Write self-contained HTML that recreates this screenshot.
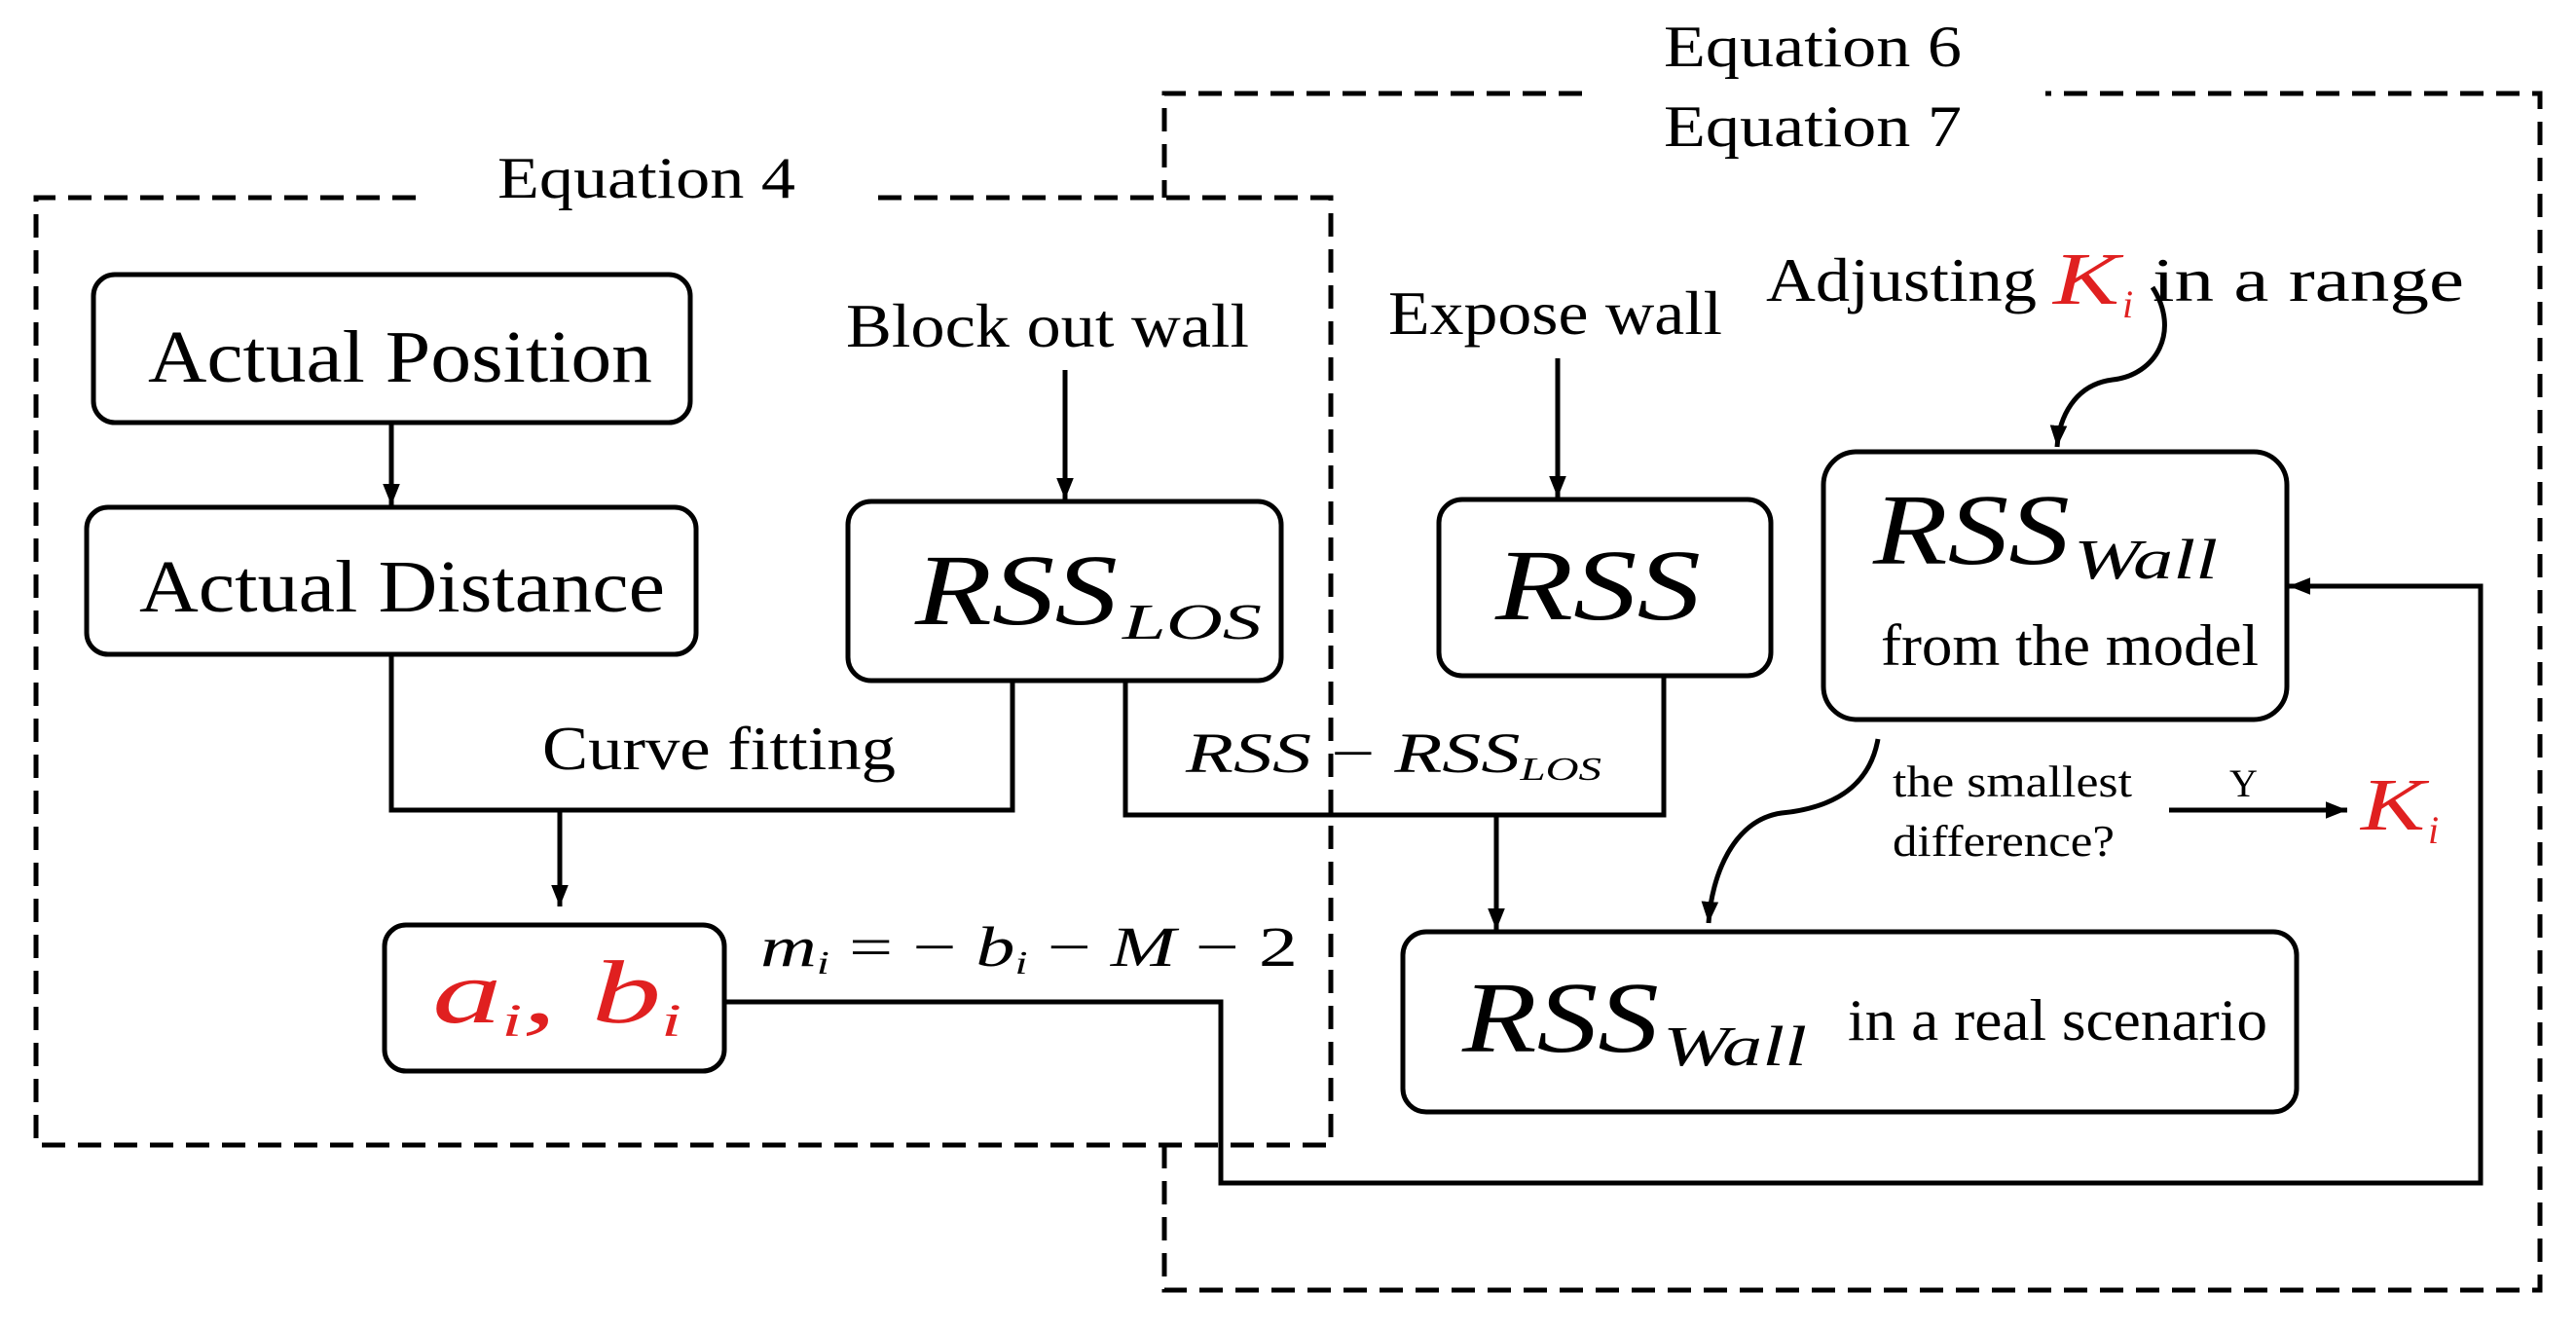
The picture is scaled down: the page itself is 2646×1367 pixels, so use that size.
<!DOCTYPE html>
<html><head><meta charset="utf-8"><style>
html,body{margin:0;padding:0;background:#fff;}
svg{display:block;}
text{font-family:"Liberation Serif",serif;fill:#000;}
.m{font-style:italic;}
.r{fill:#e02020;}
</style></head><body>
<svg width="2646" height="1367" viewBox="0 0 2646 1367" xmlns="http://www.w3.org/2000/svg">
<defs>
<marker id="a" markerWidth="10" markerHeight="10" refX="9" refY="5" orient="auto" markerUnits="userSpaceOnUse" viewBox="0 0 10 10">
</marker>
<marker id="ah" viewBox="0 0 10 10" refX="10" refY="5" markerWidth="22" markerHeight="22" markerUnits="userSpaceOnUse" orient="auto"><path d="M0,1 L10,5 L0,9 Z" fill="#000"/></marker>
</defs>
<g fill="none" stroke="#000" stroke-width="5" stroke-dasharray="24 13">
<path d="M427,203 H37 V1176 H1367 V203 H900"/>
<path d="M1625,96 H1196 V203 M1196,1176 V1325 H2609 V96 H2101"/>
</g>
<g fill="none" stroke="#000" stroke-width="5">
<rect x="96" y="282" width="613" height="152" rx="22"/>
<rect x="89" y="521" width="626" height="151" rx="22"/>
<rect x="871" y="515" width="445" height="184" rx="24"/>
<rect x="1478" y="513" width="341" height="181" rx="24"/>
<rect x="1873" y="464" width="476" height="275" rx="34"/>
<rect x="1441" y="957" width="918" height="185" rx="24"/>
<rect x="395" y="950" width="349" height="150" rx="22"/>
<path d="M402,434 V519" marker-end="url(#ah)"/>
<path d="M1094,380 V513" marker-end="url(#ah)"/>
<path d="M1600,368 V511" marker-end="url(#ah)"/>
<path d="M402,672 V832 H1040 V699"/>
<path d="M575,832 V931" marker-end="url(#ah)"/>
<path d="M1156,699 V837 H1709 V694"/>
<path d="M1537,837 V955" marker-end="url(#ah)"/>
<path d="M744,1029 H1254 V1215 H2548 V602 H2351" marker-end="url(#ah)"/>
<path d="M2228,832 H2411" marker-end="url(#ah)"/>
<path d="M2211,295 C2240,340 2215,385 2170,390 C2130,395 2115,430 2113,459" marker-end="url(#ah)"/>
<path d="M1929,759 C1920,810 1880,830 1830,835 C1780,842 1758,900 1755,948" marker-end="url(#ah)"/>
</g>
<text x="511" y="203" font-size="60" textLength="306" lengthAdjust="spacingAndGlyphs">Equation 4</text>
<text x="1709" y="68" font-size="60" textLength="306" lengthAdjust="spacingAndGlyphs">Equation 6</text>
<text x="1709" y="150" font-size="60" textLength="306" lengthAdjust="spacingAndGlyphs">Equation 7</text>
<text x="152" y="392" font-size="76" textLength="518" lengthAdjust="spacingAndGlyphs">Actual Position</text>
<text x="143" y="628" font-size="76" textLength="540" lengthAdjust="spacingAndGlyphs">Actual Distance</text>
<text x="869" y="356" font-size="64" textLength="414" lengthAdjust="spacingAndGlyphs">Block out wall</text>
<text x="1426" y="343" font-size="64" textLength="343" lengthAdjust="spacingAndGlyphs">Expose wall</text>
<text x="557" y="790" font-size="64" textLength="363" lengthAdjust="spacingAndGlyphs">Curve fitting</text>
<text x="1814" y="309" font-size="64" textLength="278" lengthAdjust="spacingAndGlyphs">Adjusting</text>
<text x="2109" y="312" font-size="76" class="m r" textLength="68" lengthAdjust="spacingAndGlyphs">K</text>
<text x="2180" y="326" font-size="40" class="m r">i</text>
<text x="2211" y="309" font-size="64" textLength="320" lengthAdjust="spacingAndGlyphs">in a range</text>
<text x="940" y="641" font-size="104" class="m" textLength="208" lengthAdjust="spacingAndGlyphs">RSS</text>
<text x="1153" y="656" font-size="52" class="m" textLength="143" lengthAdjust="spacingAndGlyphs">LOS</text>
<text x="1536" y="636" font-size="104" class="m" textLength="211" lengthAdjust="spacingAndGlyphs">RSS</text>
<text x="1924" y="579" font-size="104" class="m" textLength="202" lengthAdjust="spacingAndGlyphs">RSS</text>
<text x="2130" y="594" font-size="58" class="m" textLength="148" lengthAdjust="spacingAndGlyphs">Wall</text>
<text x="1932" y="683" font-size="60" textLength="388" lengthAdjust="spacingAndGlyphs">from the model</text>
<text x="1502" y="1080" font-size="104" class="m" textLength="202" lengthAdjust="spacingAndGlyphs">RSS</text>
<text x="1708" y="1094" font-size="58" class="m" textLength="148" lengthAdjust="spacingAndGlyphs">Wall</text>
<text x="1898" y="1068" font-size="60" textLength="431" lengthAdjust="spacingAndGlyphs">in a real scenario</text>
<text x="444" y="1050" font-size="92" class="m r" textLength="256" lengthAdjust="spacingAndGlyphs">a<tspan font-size="48" dy="14">i</tspan><tspan dy="-14">,  b</tspan><tspan font-size="48" dy="14">i</tspan></text>
<text x="1218" y="793" font-size="58" class="m" textLength="427" lengthAdjust="spacingAndGlyphs">RSS <tspan font-style="normal">−</tspan> RSS<tspan font-size="34" dy="8">LOS</tspan></text>
<text x="781" y="992" font-size="58" class="m" textLength="552" lengthAdjust="spacingAndGlyphs">m<tspan font-size="34" dy="8">i</tspan><tspan dy="-8" font-style="normal"> = − </tspan>b<tspan font-size="34" dy="8">i</tspan><tspan dy="-8" font-style="normal"> − </tspan>M<tspan font-style="normal"> − 2</tspan></text>
<text x="1944" y="818" font-size="46" textLength="246" lengthAdjust="spacingAndGlyphs">the smallest</text>
<text x="1944" y="879" font-size="46" textLength="228" lengthAdjust="spacingAndGlyphs">difference?</text>
<text x="2290" y="818" font-size="40">Y</text>
<text x="2425" y="852" font-size="76" class="m r" textLength="66" lengthAdjust="spacingAndGlyphs">K</text>
<text x="2494" y="866" font-size="40" class="m r">i</text>
</svg>
</body></html>
